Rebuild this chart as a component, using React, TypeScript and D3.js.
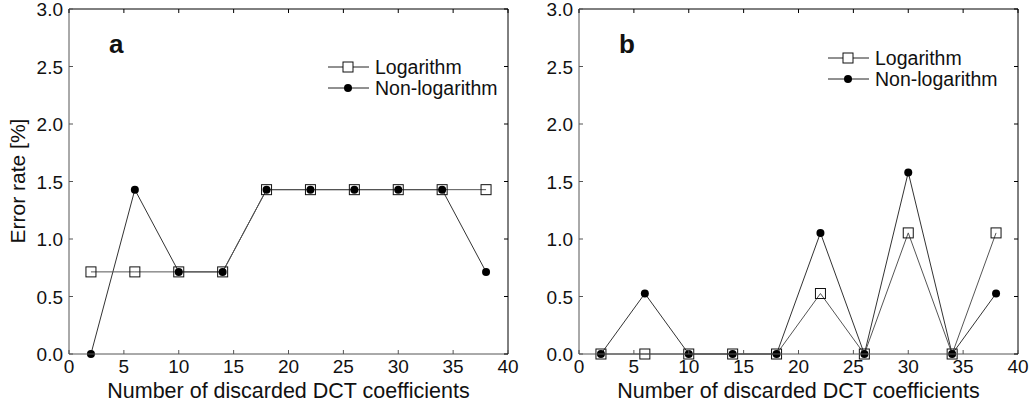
import * as d3 from "d3";

const X_VALUES = [2, 6, 10, 14, 18, 22, 26, 30, 34, 38];

const A_LOG = [0.714, 0.714, 0.714, 0.714, 1.429, 1.429, 1.429, 1.429, 1.429, 1.429];
const A_NONLOG = [0, 1.429, 0.714, 0.714, 1.429, 1.429, 1.429, 1.429, 1.429, 0.714];

const B_LOG = [0, 0, 0, 0, 0, 0.526, 0, 1.053, 0, 1.053];
const B_NONLOG = [0, 0.526, 0, 0, 0, 1.053, 0, 1.579, 0, 0.526];

const X_TICKS = [0, 5, 10, 15, 20, 25, 30, 35, 40];
const Y_TICKS = [0, 0.5, 1, 1.5, 2, 2.5, 3];

const FONT = "Liberation Sans, Arial, sans-serif";

type PanelProps = {
  left: number;
  right: number;
  label: string;
  logVals: number[];
  nonLogVals: number[];
  legendX: number;
  legendY: number;
};

const TOP = 9;
const BOTTOM = 354;

function Panel({ left, right, label, logVals, nonLogVals, legendX, legendY }: PanelProps) {
  const x = d3.scaleLinear().domain([0, 40]).range([left, right]);
  const y = d3.scaleLinear().domain([0, 3]).range([BOTTOM, TOP]);
  const line = d3
    .line<number>()
    .x((_, i) => x(X_VALUES[i]))
    .y((d) => y(d));
  const tick = 4;

  return (
    <g>
      <path d={line(nonLogVals) || ""} fill="none" stroke="#333" strokeWidth={1} />
      <path d={line(logVals) || ""} fill="none" stroke="#555" strokeWidth={1} />
      {logVals.map((v, i) => (
        <rect
          key={"s" + i}
          x={x(X_VALUES[i]) - 5}
          y={y(v) - 5}
          width={10}
          height={10}
          fill="white"
          fillOpacity={0}
          stroke="#111"
          strokeWidth={1}
        />
      ))}
      {nonLogVals.map((v, i) => (
        <circle key={"c" + i} cx={x(X_VALUES[i])} cy={y(v)} r={4} fill="#000" />
      ))}

      {/* frame */}
      <line x1={left} x2={right} y1={TOP} y2={TOP} stroke="#000" />
      <line x1={right} x2={right} y1={TOP} y2={BOTTOM} stroke="#000" />
      <line x1={left} x2={right} y1={BOTTOM} y2={BOTTOM} stroke="#555" />
      <line x1={left} x2={left} y1={TOP} y2={BOTTOM} stroke="#555" />

      {X_TICKS.map((t) => (
        <g key={"x" + t}>
          <line x1={x(t)} x2={x(t)} y1={BOTTOM} y2={BOTTOM - tick} stroke="#555" />
          <line x1={x(t)} x2={x(t)} y1={TOP} y2={TOP + tick} stroke="#000" />
          <text x={x(t)} y={BOTTOM + 19} textAnchor="middle" fontSize={19} fontFamily={FONT} fill="#111">
            {t}
          </text>
        </g>
      ))}
      {Y_TICKS.map((t) => (
        <g key={"y" + t}>
          <line x1={left} x2={left + tick} y1={y(t)} y2={y(t)} stroke="#555" />
          <line x1={right} x2={right - tick} y1={y(t)} y2={y(t)} stroke="#000" />
          <text x={left - 6} y={y(t) + 7} textAnchor="end" fontSize={19} fontFamily={FONT} fill="#111">
            {t.toFixed(1)}
          </text>
        </g>
      ))}

      <text
        x={(left + right) / 2}
        y={BOTTOM + 44}
        textAnchor="middle"
        fontSize={21.5}
        fontFamily={FONT}
        fill="#111"
      >
        Number of discarded DCT coefficients
      </text>

      <text x={left + 40} y={53} fontSize={26} fontWeight="bold" fontFamily={FONT} fill="#111">
        {label}
      </text>

      {/* legend */}
      <line x1={legendX} x2={legendX + 41} y1={legendY} y2={legendY} stroke="#222" />
      <rect x={legendX + 15} y={legendY - 5} width={10} height={10} fill="white" stroke="#111" />
      <text x={legendX + 47} y={legendY + 7} fontSize={19.5} fontFamily={FONT} fill="#111">
        Logarithm
      </text>
      <line x1={legendX} x2={legendX + 41} y1={legendY + 21} y2={legendY + 21} stroke="#222" />
      <circle cx={legendX + 20} cy={legendY + 21} r={4} fill="#000" />
      <text x={legendX + 47} y={legendY + 28} fontSize={19.5} fontFamily={FONT} fill="#111">
        Non-logarithm
      </text>
    </g>
  );
}

export default function App() {
  return (
    <svg
      width={1032}
      height={406}
      style={{ position: "absolute", left: 0, top: 0, background: "white" }}
    >
      <rect width={1032} height={406} fill="white" />
      <text
        transform="translate(25,181) rotate(-90)"
        textAnchor="middle"
        fontSize={21}
        fontFamily={FONT}
        fill="#111"
      >
        Error rate [%]
      </text>
      <Panel
        left={69}
        right={508}
        label="a"
        logVals={A_LOG}
        nonLogVals={A_NONLOG}
        legendX={328}
        legendY={67}
      />
      <Panel
        left={579}
        right={1018}
        label="b"
        logVals={B_LOG}
        nonLogVals={B_NONLOG}
        legendX={828}
        legendY={58}
      />
    </svg>
  );
}
